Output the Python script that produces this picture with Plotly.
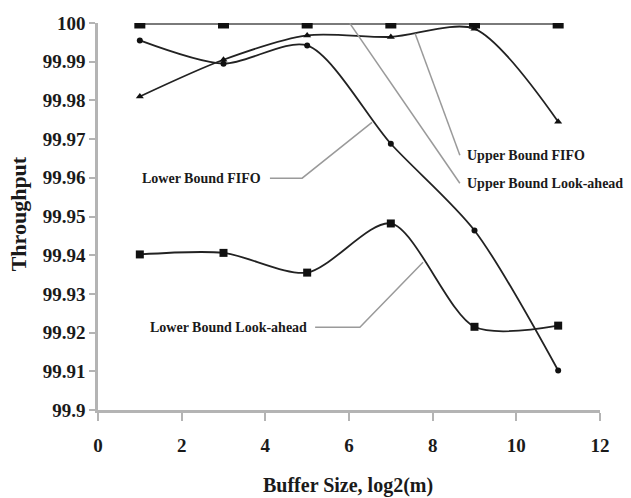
import plotly.graph_objects as go

# Buffer sizes (log2) and throughput (%) for each bound
buffer_log2 = [1, 3, 5, 7, 9, 11]
upper_fifo = [100.0, 100.0, 100.0, 100.0, 100.0, 100.0]
upper_lookahead = [99.981, 99.9905, 99.9968, 99.9964, 99.9985, 99.9745]
lower_fifo = [99.9955, 99.9895, 99.9942, 99.9688, 99.9464, 99.9102]
lower_lookahead = [99.9402, 99.9406, 99.9355, 99.9482, 99.9215, 99.9218]

y_ticks = [99.9, 99.91, 99.92, 99.93, 99.94, 99.95, 99.96, 99.97, 99.98, 99.99, 100]
y_tick_text = ["99.9", "99.91", "99.92", "99.93", "99.94", "99.95", "99.96",
               "99.97", "99.98", "99.99", "100"]
x_ticks = [0, 2, 4, 6, 8, 10, 12]
x_tick_text = ["0", "2", "4", "6", "8", "10", "12"]

FONT = "Liberation Serif"
LINE = "#222222"
LEADER = "#9a9a9a"
AXIS = "#b4b4b4"
TEXT = "#1a1a1a"

fig = go.Figure()

def series(y, symbol, size, name, color=LINE, width=1.8):
    fig.add_trace(go.Scatter(
        x=buffer_log2, y=y, mode="lines+markers", name=name,
        line=dict(color=color, width=width, shape="spline", smoothing=0.8),
        marker=dict(symbol=symbol, size=size, color="#111111"),
        showlegend=False,
    ))

series(upper_fifo, "square", 11, "Upper Bound FIFO", color="#7a7a7a", width=4)
series(upper_lookahead, "triangle-up", 7, "Upper Bound Look-ahead")
series(lower_fifo, "circle", 6, "Lower Bound FIFO")
series(lower_lookahead, "square", 8, "Lower Bound Look-ahead")

# Leader lines from the labels to their curves
leaders = [
    ([4.11, 4.88, 6.55], [99.9599, 99.9599, 99.9743]),
    ([8.65, 7.58], [99.9658, 99.9973]),
    ([8.65, 6.02], [99.9586, 99.9999]),
    ([5.19, 6.26, 7.77], [99.9214, 99.9214, 99.9382]),
]
for lx, ly in leaders:
    path = "M " + " L ".join(f"{a},{b}" for a, b in zip(lx, ly))
    fig.add_shape(type="path", path=path, xref="x", yref="y",
                  line=dict(color=LEADER, width=1.5))

labels = [
    ("Lower Bound FIFO", 3.95, 99.9599, "right"),
    ("Upper Bound FIFO", 8.78, 99.9658, "left"),
    ("Upper Bound Look-ahead", 8.78, 99.9586, "left"),
    ("Lower Bound Look-ahead", 5.05, 99.9214, "right"),
]
for text, ax, ay, anchor in labels:
    fig.add_annotation(x=ax, y=ay, text=f"<b>{text}</b>", showarrow=False,
                       xanchor=anchor, yanchor="middle",
                       font=dict(family=FONT, size=14, color=TEXT))

# Axis titles placed relative to the plotting area
fig.add_annotation(x=0.498, y=-0.194, xref="paper", yref="paper",
                   text="<b>Buffer Size, log2(m)</b>", showarrow=False,
                   xanchor="center", yanchor="middle",
                   font=dict(family=FONT, size=20, color=TEXT))
fig.add_annotation(x=-0.159, y=0.506, xref="paper", yref="paper",
                   text="<b>Throughput</b>", showarrow=False, textangle=-90,
                   xanchor="center", yanchor="middle",
                   font=dict(family=FONT, size=22, color=TEXT))

fig.update_layout(
    width=631, height=498,
    margin=dict(l=98, r=31, t=23, b=88),
    paper_bgcolor="white", plot_bgcolor="white",
    font=dict(family=FONT, color=TEXT),
)
fig.update_xaxes(
    range=[0, 12], tickvals=x_ticks, ticktext=[f"<b>{t}</b>" for t in x_tick_text],
    ticks="outside", ticklen=8, tickcolor=AXIS, tickwidth=1.5, ticklabelstandoff=8,
    showline=True, linecolor=AXIS, linewidth=3, showgrid=False, automargin=False,
    zeroline=False, tickfont=dict(family=FONT, size=19, color=TEXT),
)
fig.update_yaxes(
    range=[99.9, 100], tickvals=y_ticks, ticktext=[f"<b>{t}</b>" for t in y_tick_text],
    ticks="outside", ticklen=6, tickcolor=AXIS, tickwidth=1.5, automargin=False,
    showline=True, linecolor=AXIS, linewidth=2.5, showgrid=False, zeroline=False,
    tickfont=dict(family=FONT, size=19, color=TEXT),
)

fig.write_html("out.html")
